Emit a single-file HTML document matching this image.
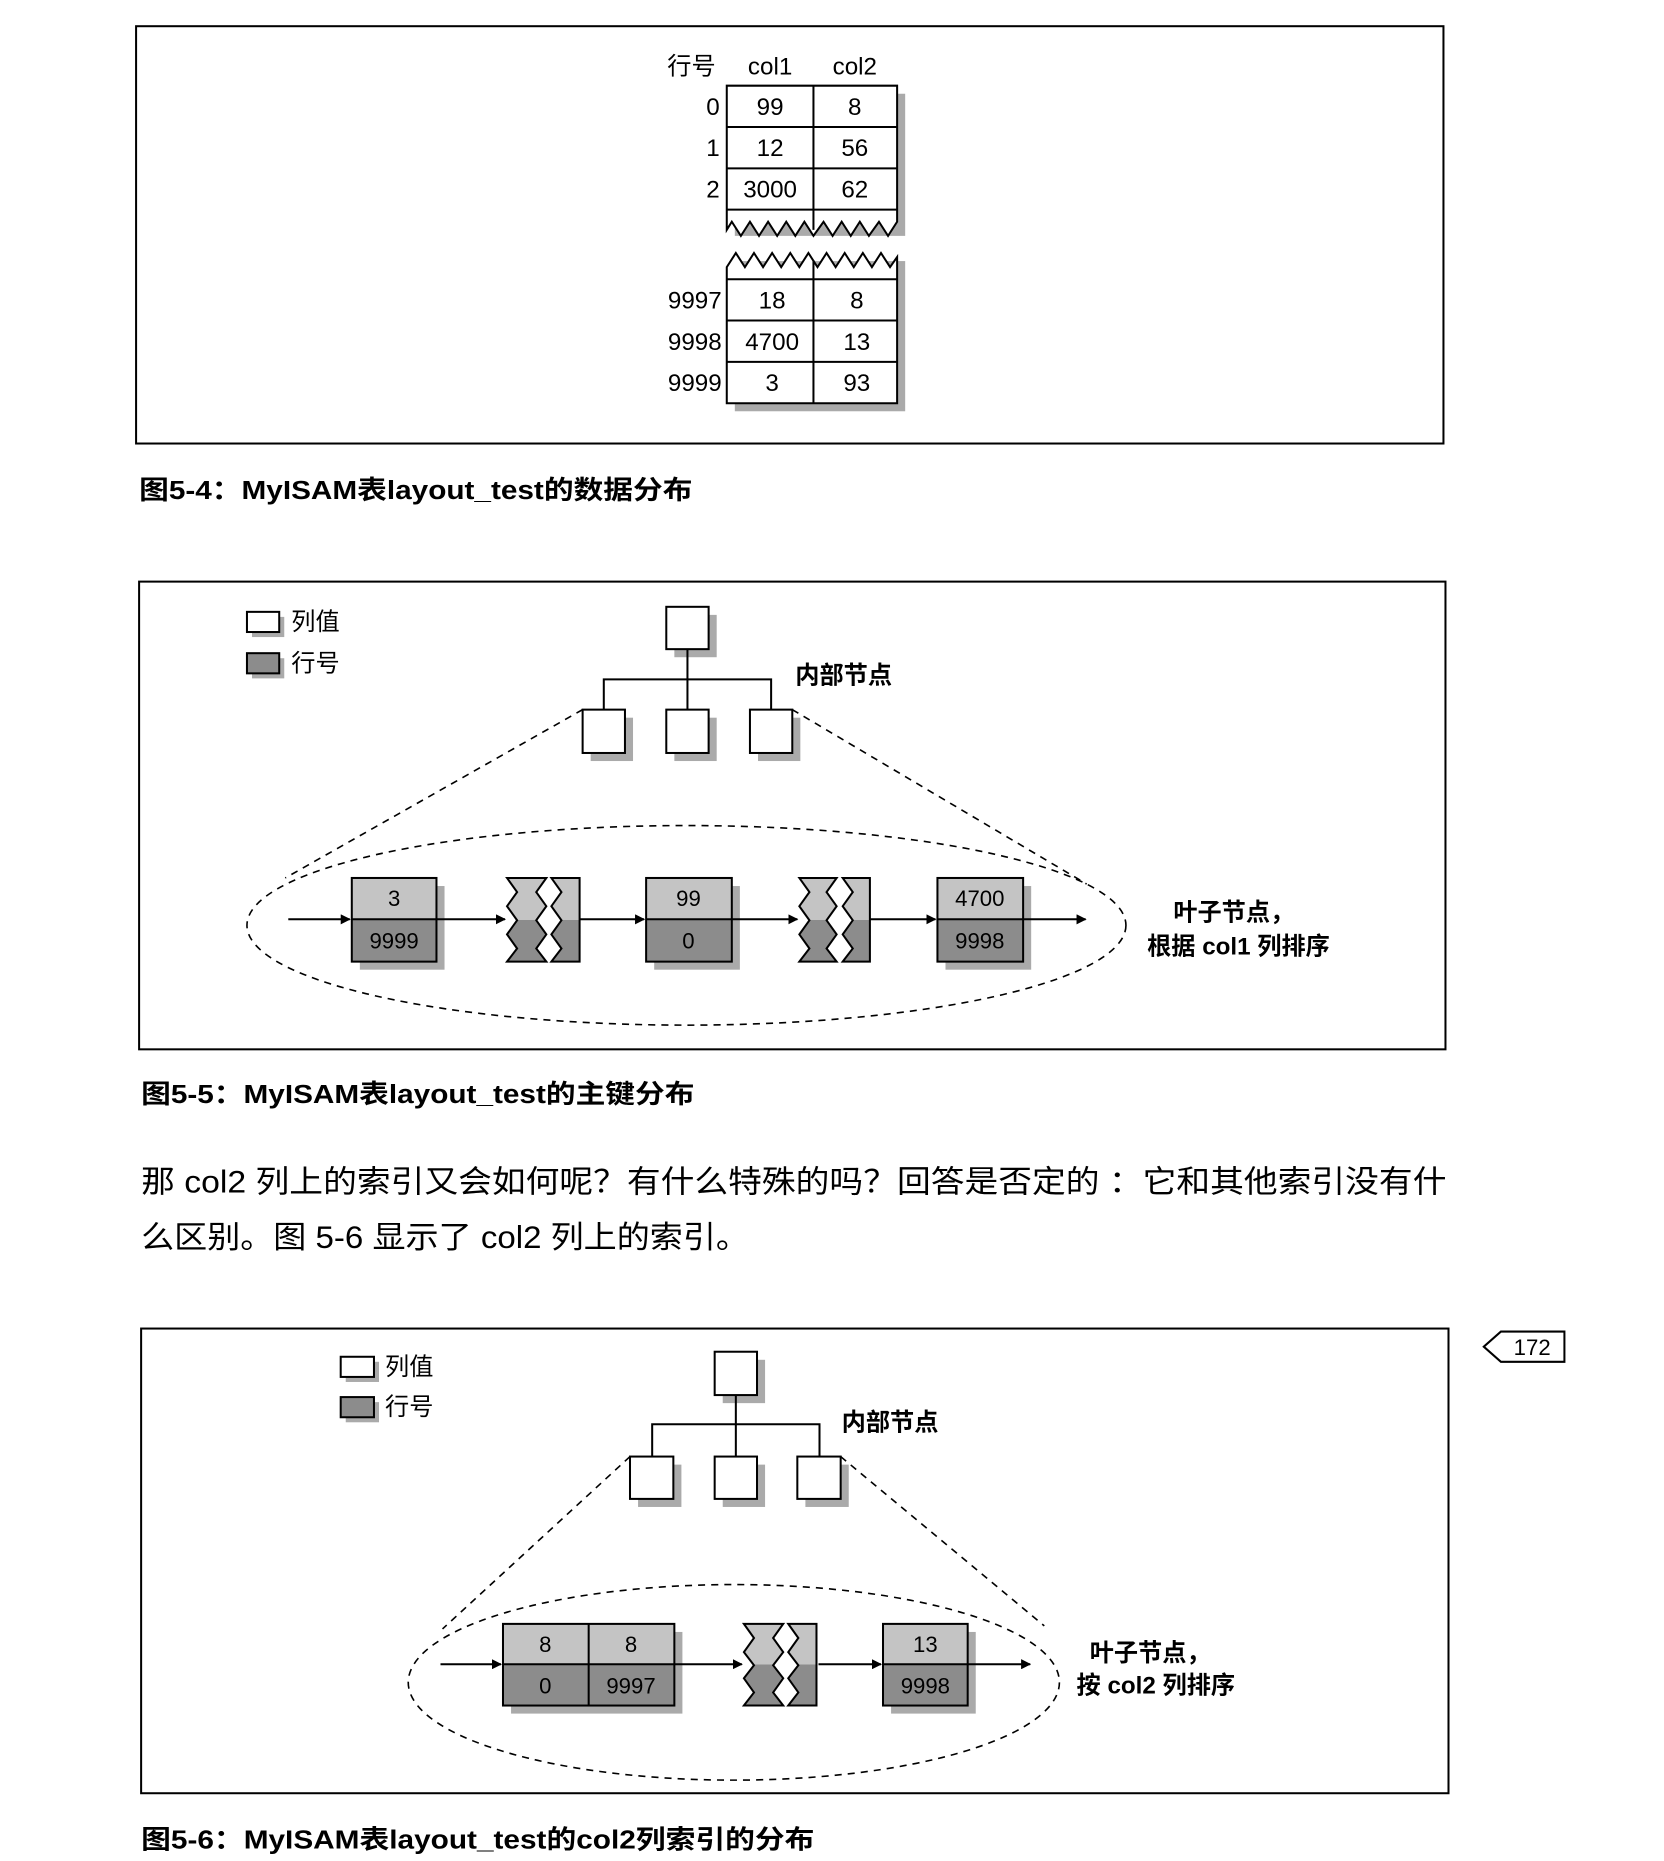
<!DOCTYPE html>
<html><head><meta charset="utf-8"><style>
html,body{margin:0;padding:0;background:#fff;}
svg{display:block;}
.cj{font-family:"Liberation Sans","Noto Sans CJK SC",sans-serif;}
.nr{font-family:"Liberation Sans Narrow","Liberation Sans","Noto Sans CJK SC",sans-serif;}
</style></head><body>
<svg width="1664" height="1861" viewBox="0 0 1664 1861" xmlns="http://www.w3.org/2000/svg">
<defs>
<linearGradient id="g" x1="0" y1="0" x2="0" y2="1">
<stop offset="0" stop-color="#c4c4c4"/><stop offset="0.5" stop-color="#c4c4c4"/>
<stop offset="0.5" stop-color="#8c8c8c"/><stop offset="1" stop-color="#8c8c8c"/>
</linearGradient>
<marker id="ah" markerWidth="10" markerHeight="10" refX="9" refY="5" orient="auto" markerUnits="userSpaceOnUse">
<path d="M0,0 L10,5 L0,10 z" fill="#000"/></marker>
</defs>
<g transform="scale(1.008)">
<g fill="none" stroke="#000">
<!-- Figure 5-4 -->
<rect x="135" y="26" width="1297" height="414" stroke-width="2"/>
<rect x="729" y="93" width="169" height="141" fill="#aaa" stroke="none"/>
<rect x="729" y="259" width="169" height="149" fill="#aaa" stroke="none"/>
<polygon points="721,85 890,85 890,220 881,234 872,220 862,234 853,220 844,234 835,220 826,234 817,220 807,234 798,220 789,234 780,220 771,234 762,220 753,234 744,220 735,234 726,220 721,228" fill="#fff" stroke-width="2"/>
<line x1="807" y1="85" x2="807" y2="228" stroke-width="2"/>
<line x1="721" y1="126" x2="890" y2="126" stroke-width="2"/>
<line x1="721" y1="167" x2="890" y2="167" stroke-width="2"/>
<line x1="721" y1="208" x2="890" y2="208" stroke-width="2"/>
<polygon points="721,265 730,251 739,265 748,251 757,265 766,251 775,265 784,251 793,265 802,251 811,265 820,251 829,265 838,251 847,265 856,251 865,265 874,251 883,265 890,255 890,400 721,400" fill="#fff" stroke-width="2"/>
<line x1="807" y1="258" x2="807" y2="400" stroke-width="2"/>
<line x1="721" y1="277" x2="890" y2="277" stroke-width="2"/>
<line x1="721" y1="318" x2="890" y2="318" stroke-width="2"/>
<line x1="721" y1="359" x2="890" y2="359" stroke-width="2"/>

<!-- Figure 5-5 -->
<rect x="138" y="577" width="1296" height="464" stroke-width="2"/>
<rect x="250" y="612" width="32" height="20" fill="#aaa" stroke="none"/>
<rect x="245" y="607" width="32" height="20" fill="#fff" stroke-width="2"/>
<rect x="250" y="653" width="32" height="20" fill="#aaa" stroke="none"/>
<rect x="245" y="648" width="32" height="20" fill="#8c8c8c" stroke-width="2"/>
<rect x="669" y="610" width="42" height="42" fill="#aaa" stroke="none"/>
<rect x="661" y="602" width="42" height="42" fill="#fff" stroke-width="2"/>
<polyline points="682,644 682,704" stroke-width="2"/>
<polyline points="599,704 599,674 765,674 765,704" stroke-width="2"/>
<rect x="586" y="712" width="42" height="43" fill="#aaa" stroke="none"/>
<rect x="669" y="712" width="42" height="43" fill="#aaa" stroke="none"/>
<rect x="752" y="712" width="42" height="43" fill="#aaa" stroke="none"/>
<rect x="578" y="704" width="42" height="43" fill="#fff" stroke-width="2"/>
<rect x="661" y="704" width="42" height="43" fill="#fff" stroke-width="2"/>
<rect x="744" y="704" width="42" height="43" fill="#fff" stroke-width="2"/>
<line x1="578" y1="704" x2="283" y2="871" stroke-dasharray="7,6" stroke-width="1.6"/>
<line x1="786" y1="704" x2="1078" y2="877" stroke-dasharray="7,6" stroke-width="1.6"/>
<ellipse cx="681" cy="918" rx="436" ry="99" stroke-dasharray="7,6" stroke-width="1.6"/>
<rect x="357" y="879" width="84" height="83" fill="#aaa" stroke="none"/>
<rect x="349" y="871" width="84" height="83" fill="url(#g)" stroke-width="2"/>
<line x1="349" y1="912" x2="433" y2="912" stroke-width="2"/>
<rect x="649" y="879" width="85" height="83" fill="#aaa" stroke="none"/>
<rect x="641" y="871" width="85" height="83" fill="url(#g)" stroke-width="2"/>
<line x1="641" y1="912" x2="726" y2="912" stroke-width="2"/>
<rect x="938" y="879" width="85" height="83" fill="#aaa" stroke="none"/>
<rect x="930" y="871" width="85" height="83" fill="url(#g)" stroke-width="2"/>
<line x1="930" y1="912" x2="1015" y2="912" stroke-width="2"/>
<polygon points="503,871 513,885 503,899 513,913 503,927 513,941 503,954 542,954 532,941 542,927 532,913 542,899 532,885 542,871" fill="url(#g)" stroke-width="2"/>
<polygon points="547,871 557,885 547,899 557,913 547,927 557,941 547,954 575,954 575,871" fill="url(#g)" stroke-width="2"/>
<polygon points="793,871 803,885 793,899 803,913 793,927 803,941 793,954 830,954 820,941 830,927 820,913 830,899 820,885 830,871" fill="url(#g)" stroke-width="2"/>
<polygon points="836,871 846,885 836,899 846,913 836,927 846,941 836,954 863,954 863,871" fill="url(#g)" stroke-width="2"/>
<g stroke-width="2" marker-end="url(#ah)">
<line x1="286" y1="912" x2="347" y2="912"/>
<line x1="433" y1="912" x2="501" y2="912"/>
<line x1="575" y1="912" x2="639" y2="912"/>
<line x1="726" y1="912" x2="791" y2="912"/>
<line x1="863" y1="912" x2="928" y2="912"/>
<line x1="1015" y1="912" x2="1077" y2="912"/>
</g>

<!-- Figure 5-6 -->
<rect x="140" y="1318" width="1297" height="461" stroke-width="2"/>
<rect x="343" y="1351" width="33" height="20" fill="#aaa" stroke="none"/>
<rect x="338" y="1346" width="33" height="20" fill="#fff" stroke-width="2"/>
<rect x="343" y="1391" width="33" height="20" fill="#aaa" stroke="none"/>
<rect x="338" y="1386" width="33" height="20" fill="#8c8c8c" stroke-width="2"/>
<rect x="717" y="1349" width="42" height="43" fill="#aaa" stroke="none"/>
<rect x="709" y="1341" width="42" height="43" fill="#fff" stroke-width="2"/>
<polyline points="730,1384 730,1445" stroke-width="2"/>
<polyline points="647,1445 647,1413 813,1413 813,1445" stroke-width="2"/>
<rect x="633" y="1453" width="43" height="42" fill="#aaa" stroke="none"/>
<rect x="717" y="1453" width="42" height="42" fill="#aaa" stroke="none"/>
<rect x="799" y="1453" width="43" height="42" fill="#aaa" stroke="none"/>
<rect x="625" y="1445" width="43" height="42" fill="#fff" stroke-width="2"/>
<rect x="709" y="1445" width="42" height="42" fill="#fff" stroke-width="2"/>
<rect x="791" y="1445" width="43" height="42" fill="#fff" stroke-width="2"/>
<line x1="625" y1="1445" x2="439" y2="1616" stroke-dasharray="7,6" stroke-width="1.6"/>
<line x1="834" y1="1445" x2="1036" y2="1613" stroke-dasharray="7,6" stroke-width="1.6"/>
<ellipse cx="728" cy="1669" rx="323" ry="97" stroke-dasharray="7,6" stroke-width="1.6"/>
<rect x="507" y="1619" width="170" height="81" fill="#aaa" stroke="none"/>
<rect x="499" y="1611" width="170" height="81" fill="url(#g)" stroke-width="2"/>
<line x1="499" y1="1651" x2="669" y2="1651" stroke-width="2"/>
<line x1="584" y1="1611" x2="584" y2="1692" stroke-width="2"/>
<rect x="884" y="1619" width="84" height="81" fill="#aaa" stroke="none"/>
<rect x="876" y="1611" width="84" height="81" fill="url(#g)" stroke-width="2"/>
<line x1="876" y1="1651" x2="960" y2="1651" stroke-width="2"/>
<polygon points="738,1611 748,1625 738,1639 748,1652 738,1665 748,1679 738,1692 777,1692 767,1679 777,1665 767,1652 777,1639 767,1625 777,1611" fill="url(#g)" stroke-width="2"/>
<polygon points="782,1611 792,1625 782,1639 792,1652 782,1665 792,1679 782,1692 810,1692 810,1611" fill="url(#g)" stroke-width="2"/>
<g stroke-width="2" marker-end="url(#ah)">
<line x1="437" y1="1651" x2="497" y2="1651"/>
<line x1="669" y1="1651" x2="736" y2="1651"/>
<line x1="812" y1="1651" x2="874" y2="1651"/>
<line x1="960" y1="1651" x2="1022" y2="1651"/>
</g>
<polygon points="1472,1336 1489,1321 1552,1321 1552,1351 1489,1351" fill="#fff" stroke-width="2"/>
</g>

<g fill="#000">
<g class="nr" font-size="24" text-anchor="middle">
<text x="686" y="74" class="cj" font-size="24">行号</text>
<text x="764" y="74">col1</text><text x="848" y="74">col2</text>
<text x="764" y="114">99</text><text x="848" y="114">8</text>
<text x="764" y="155">12</text><text x="848" y="155">56</text>
<text x="764" y="196">3000</text><text x="848" y="196">62</text>
<text x="766" y="306">18</text><text x="850" y="306">8</text>
<text x="766" y="347">4700</text><text x="850" y="347">13</text>
<text x="766" y="388">3</text><text x="850" y="388">93</text>
</g>
<g class="nr" font-size="24" text-anchor="end">
<text x="714" y="114">0</text><text x="714" y="155">1</text><text x="714" y="196">2</text>
<text x="716" y="306">9997</text><text x="716" y="347">9998</text><text x="716" y="388">9999</text>
</g>
<text class="cj" x="138" y="495" font-size="26" font-weight="bold" textLength="549" lengthAdjust="spacingAndGlyphs">图5-4：MyISAM表layout_test的数据分布</text>

<g class="cj" font-size="24">
<text x="289" y="625">列值</text>
<text x="289" y="666">行号</text>
<text x="789" y="678" font-weight="bold">内部节点</text>
<text x="1164" y="913" font-weight="bold">叶子节点，</text>
<text x="1138" y="947" font-weight="bold">根据 col1 列排序</text>
</g>
<g class="nr" font-size="22" text-anchor="middle">
<text x="391" y="899">3</text><text x="391" y="941">9999</text>
<text x="683" y="899">99</text><text x="683" y="941">0</text>
<text x="972" y="899">4700</text><text x="972" y="941">9998</text>
</g>
<text class="cj" x="140" y="1094" font-size="26" font-weight="bold" textLength="549" lengthAdjust="spacingAndGlyphs">图5-5：MyISAM表layout_test的主键分布</text>

<text class="cj" x="140" y="1183" font-size="31" textLength="1295" lengthAdjust="spacingAndGlyphs">那 col2 列上的索引又会如何呢？有什么特殊的吗？回答是否定的 ：它和其他索引没有什</text>
<text class="cj" x="140" y="1238" font-size="31" textLength="603" lengthAdjust="spacingAndGlyphs">么区别。图 5-6 显示了 col2 列上的索引。</text>

<g class="cj" font-size="24">
<text x="382" y="1364">列值</text>
<text x="382" y="1404">行号</text>
<text x="835" y="1419" font-weight="bold">内部节点</text>
<text x="1081" y="1648" font-weight="bold">叶子节点，</text>
<text x="1068" y="1680" font-weight="bold">按 col2 列排序</text>
</g>
<g class="nr" font-size="22" text-anchor="middle">
<text x="541" y="1639">8</text><text x="626" y="1639">8</text>
<text x="541" y="1680">0</text><text x="626" y="1680">9997</text>
<text x="918" y="1639">13</text><text x="918" y="1680">9998</text>
<text x="1520" y="1344">172</text>
</g>
<text class="cj" x="140" y="1834" font-size="26" font-weight="bold" textLength="668" lengthAdjust="spacingAndGlyphs">图5-6：MyISAM表layout_test的col2列索引的分布</text>
</g>
</g>
</svg>
</body></html>
